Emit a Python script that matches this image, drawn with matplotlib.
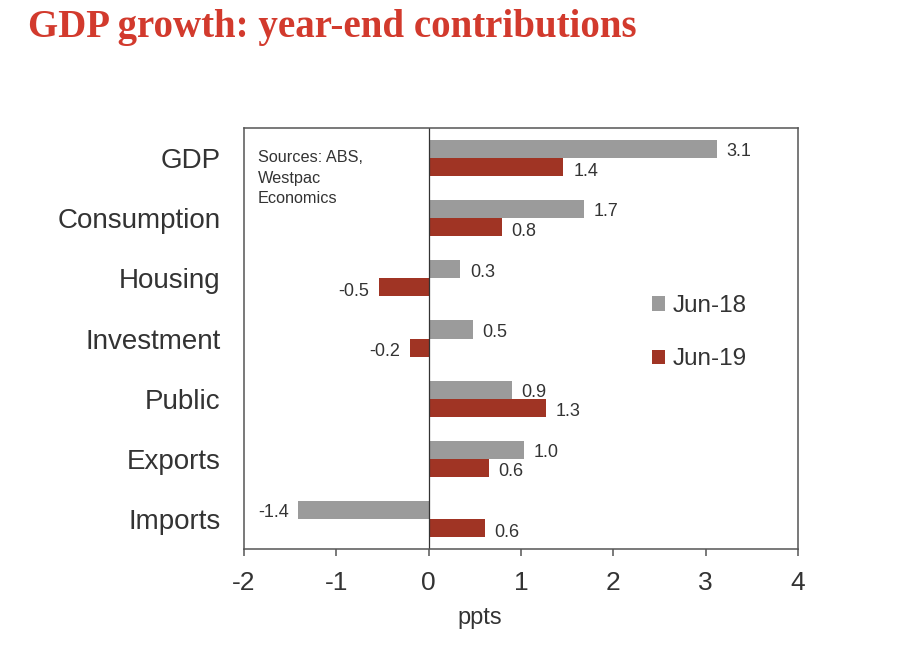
import numpy as np
import matplotlib
matplotlib.use("Agg")
import matplotlib.pyplot as plt

# ---- data ----
categories = ["GDP", "Consumption", "Housing", "Investment", "Public", "Exports", "Imports"]
jun18 = [3.12, 1.68, 0.34, 0.48, 0.90, 1.03, -1.41]
jun19 = [1.46, 0.79, -0.54, -0.20, 1.27, 0.65, 0.61]
jun18_lbl = ["3.1", "1.7", "0.3", "0.5", "0.9", "1.0", "-1.4"]
jun19_lbl = ["1.4", "0.8", "-0.5", "-0.2", "1.3", "0.6", "0.6"]
xticks = [-2, -1, 0, 1, 2, 3, 4]

GREY, RED, TXT = "#9b9b9b", "#a03424", "#333333"
plt.rcParams["font.family"] = ["Liberation Sans", "DejaVu Sans"]

fig = plt.figure(figsize=(9.12, 6.72), dpi=100)
ax = fig.add_axes([0.2675, 0.183, 0.6075, 0.6265])

y = np.arange(len(categories)); h = 0.3
ax.barh(y - h / 2, jun18, h, color=GREY, label="Jun-18")
ax.barh(y + h / 2, jun19, h, color=RED, label="Jun-19")
ax.axvline(0, color=TXT, lw=0.9)

for yy, v, s, dy in list(zip(y - h / 2, jun18, jun18_lbl, [-2] * 7)) + list(zip(y + h / 2, jun19, jun19_lbl, [-3] * 7)):
    off = 7 if v >= 0 else -7
    ax.annotate(s, (v, yy), xytext=(off, dy), textcoords="offset points",
                ha="left" if v >= 0 else "right", va="center", fontsize=13, color=TXT)

ax.set_xlim(-2, 4); ax.set_ylim(len(categories) - 0.5, -0.5)
ax.set_xticks(xticks); ax.set_xticklabels([str(t) for t in xticks])
ax.set_yticks(y); ax.set_yticklabels(categories)
ax.tick_params(axis="y", length=0, pad=17, labelsize=20, labelcolor=TXT)
ax.tick_params(axis="x", length=5, width=1.1, color="#555555", pad=11, labelsize=19, labelcolor=TXT)
for sp in ax.spines.values():
    sp.set_color("#555555"); sp.set_linewidth(1.1)

ax.set_xlabel("ppts", fontsize=17, color=TXT, va="center")
ax.xaxis.set_label_coords(0.426, -0.163)

ax.text(0.025, 0.947, "Sources: ABS,\nWestpac\nEconomics", transform=ax.transAxes,
        fontsize=11.7, color=TXT, va="top", ha="left", linespacing=1.45)

ax.legend(loc="center left", bbox_to_anchor=(0.736, 0.514), frameon=False, fontsize=17.5,
          handlelength=0.55, handleheight=0.55, handletextpad=0.3, labelspacing=1.3,
          borderpad=0, borderaxespad=0, labelcolor=TXT)

fig.text(28 / 912, 1 - 37 / 672, "GDP growth: year-end contributions", family="Liberation Serif",
         weight="bold", fontsize=28, color="#d23a2d", va="baseline", ha="left")

fig.savefig("out.png", dpi=100)
plt.close(fig)
